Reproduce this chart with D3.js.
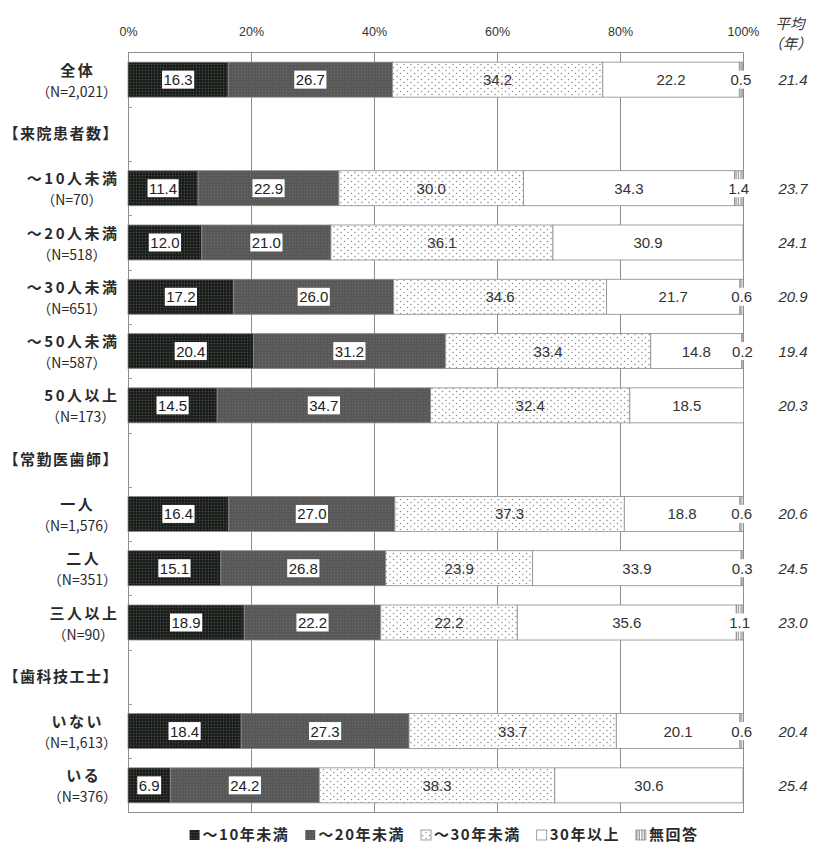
<!DOCTYPE html>
<html lang="ja">
<head>
<meta charset="utf-8">
<script src="https://cdn.jsdelivr.net/npm/d3@7"></script>
<style>
  html, body { margin: 0; padding: 0; background: #fff; }
  svg { display: block; }
</style>
</head>
<body>
<svg id="chart" width="813" height="846"></svg>
<script>
// 開業年数の分布（属性別）
const categories = ["全体", "～10人未満", "～20人未満", "～30人未満", "～50人未満", "50人以上",
                    "一人", "二人", "三人以上", "いない", "いる"];
const sampleLabels = ["（N=2,021）", "（N=70）", "（N=518）", "（N=651）", "（N=587）", "（N=173）",
                      "（N=1,576）", "（N=351）", "（N=90）", "（N=1,613）", "（N=376）"];
const groupHeadings = ["【来院患者数】", "【常勤医歯師】", "【歯科技工士】"];
const groupFirstCategory = ["～10人未満", "一人", "いない"];

const seriesNames = ["～10年未満", "～20年未満", "～30年未満", "30年以上", "無回答"];
const under10 = [16.3, 11.4, 12.0, 17.2, 20.4, 14.5, 16.4, 15.1, 18.9, 18.4, 6.9];
const under20 = [26.7, 22.9, 21.0, 26.0, 31.2, 34.7, 27.0, 26.8, 22.2, 27.3, 24.2];
const under30 = [34.2, 30.0, 36.1, 34.6, 33.4, 32.4, 37.3, 23.9, 22.2, 33.7, 38.3];
const over30  = [22.2, 34.3, 30.9, 21.7, 14.8, 18.5, 18.8, 33.9, 35.6, 20.1, 30.6];
const noAnswer = [0.5, 1.4, 0, 0.6, 0.2, 0, 0.6, 0.3, 1.1, 0.6, 0];
const meanYears = ["21.4", "23.7", "24.1", "20.9", "19.4", "20.3", "20.6", "24.5", "23.0", "20.4", "25.4"];
const tickValues = [0, 20, 40, 60, 80, 100];
const meanHeader = ["平均", "（年）"];

const svg = d3.select("#chart");
const CJK = "'Noto Sans CJK JP', 'Noto Sans', sans-serif";
const NUM = "'Liberation Sans', Arial, sans-serif";

// ---- patterns for each series ----
const defs = svg.append("defs");
function dotPattern(id, w, h, bg, dots, dotFill, r) {
  const p = defs.append("pattern").attr("id", id).attr("patternUnits", "userSpaceOnUse")
    .attr("width", w).attr("height", h);
  p.append("rect").attr("width", w).attr("height", h).attr("fill", bg);
  dots.forEach(([cx, cy]) => p.append("circle").attr("cx", cx).attr("cy", cy).attr("r", r).attr("fill", dotFill));
}
dotPattern("p0", 3, 3, "#1b1e1b", [[1.5, 1.5]], "#474d47", 0.75);
dotPattern("p1", 3, 3, "#575757", [[1.5, 1.5]], "#676767", 0.8);
dotPattern("p2", 7, 6, "#ffffff", [[1.5, 1.5], [5, 4.5]], "#8a8a8a", 0.75);
dotPattern("p3", 4, 4, "#ffffff", [], "#fff", 0);
{
  const p = defs.append("pattern").attr("id", "p4").attr("patternUnits", "userSpaceOnUse")
    .attr("width", 2.5).attr("height", 4);
  p.append("rect").attr("width", 2.5).attr("height", 4).attr("fill", "#fff");
  p.append("rect").attr("x", 0.5).attr("width", 0.9).attr("height", 4).attr("fill", "#6a6a6a");
}
const fills = ["url(#p0)", "url(#p1)", "url(#p2)", "url(#p3)", "url(#p4)"];

// ---- rows: group headings sit in their own band ----
const rows = [];
categories.forEach((c, i) => {
  const g = groupFirstCategory.indexOf(c);
  if (g >= 0) rows.push({ key: groupHeadings[g], heading: true });
  rows.push({ key: c, heading: false, i });
});

const x = d3.scaleLinear().domain([0, 100]).range([128, 743]);
const y = d3.scaleBand().domain(rows.map(r => r.key)).range([52.5, 812.5])
  .paddingInner(0.355).paddingOuter(0.1775);

const plotTop = y.range()[0], plotBottom = y.range()[1];

// ---- frame and grid ----
const grid = svg.append("g");
grid.selectAll("line.v").data(tickValues.slice(1)).join("line")
  .attr("x1", d => x(d) + 0.5).attr("x2", d => x(d) + 0.5)
  .attr("y1", plotTop).attr("y2", plotBottom)
  .attr("stroke", "#8e8e8e").attr("stroke-width", 1);
grid.append("line").attr("x1", x(0)).attr("x2", x(100) + 0.5).attr("y1", plotTop).attr("y2", plotTop)
  .attr("stroke", "#8e8e8e");
grid.append("line").attr("x1", x(0)).attr("x2", x(100) + 0.5).attr("y1", plotBottom).attr("y2", plotBottom)
  .attr("stroke", "#8e8e8e");
grid.append("line").attr("x1", x(0) + 0.5).attr("x2", x(0) + 0.5).attr("y1", plotTop).attr("y2", plotBottom)
  .attr("stroke", "#8e8e8e");
// small ticks between rows on the left axis
const boundaries = rows.slice(1).map(r => y(r.key) - y.step() * y.paddingInner() / 2);
grid.selectAll("line.t").data(boundaries).join("line")
  .attr("x1", x(0)).attr("x2", x(0) + 4).attr("y1", d => Math.round(d) + 0.5).attr("y2", d => Math.round(d) + 0.5)
  .attr("stroke", "#9a9a9a");

// ---- top axis ----
const axis = svg.append("g").attr("transform", `translate(0,${plotTop})`)
  .call(d3.axisTop(x).tickValues(tickValues).tickFormat(d => d + "%").tickSize(0).tickPadding(17));
axis.select(".domain").remove();
axis.selectAll("text").attr("font-family", NUM).attr("font-size", 12.5).attr("fill", "#333");

// mean column header
[meanHeader[0], meanHeader[1]].forEach((h, j) => {
  svg.append("text").attr("x", 790).attr("y", 29 + j * 20).attr("text-anchor", "middle")
    .attr("font-family", CJK).attr("font-size", 14.5).attr("font-style", "italic").attr("fill", "#333")
    .text(h);
});

// ---- bars ----
const series = [under10, under20, under30, over30, noAnswer];
const dataRows = rows.filter(r => !r.heading);
const barG = svg.append("g");
dataRows.forEach(r => {
  const i = r.i;
  const yb = y(r.key), h = y.bandwidth();
  let acc = 0;
  const segs = series.map((s, k) => {
    const seg = { k, v: s[i], x0: acc, x1: acc + s[i] };
    acc += s[i];
    return seg;
  }).filter(s => s.v > 0);

  barG.selectAll(null).data(segs).enter().append("rect")
    .attr("x", d => x(d.x0)).attr("width", d => x(d.x1) - x(d.x0))
    .attr("y", yb).attr("height", h)
    .attr("fill", d => fills[d.k]).attr("stroke", "#8a8a8a").attr("stroke-width", 0.8);

  segs.forEach(d => {
    const cx = (x(d.x0) + x(d.x1)) / 2, cy = yb + h / 2;
    const boxed = d.k === 0 || d.k === 1 || d.k === 4;
    const t = barG.append("text").attr("x", cx).attr("y", cy + 5.5).attr("text-anchor", "middle")
      .attr("font-family", NUM).attr("font-size", 15).attr("fill", "#333")
      .text(d.v.toFixed(1));
    if (boxed) {
      const bb = t.node().getBBox();
      barG.insert("rect", () => t.node())
        .attr("x", bb.x - 1.5).attr("y", cy - 9).attr("width", bb.width + 3).attr("height", 18)
        .attr("fill", "#fff");
      if (d.k !== 4) t.attr("fill", "#222");
    }
  });

  // mean years
  svg.append("text").attr("x", 793).attr("y", yb + h / 2 + 5.5).attr("text-anchor", "middle")
    .attr("font-family", NUM).attr("font-size", 15).attr("font-style", "italic").attr("fill", "#333")
    .text(meanYears[i]);

  // category label: name + sample size, centred on the wider line, ending at x=117
  const g = svg.append("g");
  const t1 = g.append("text").attr("y", yb + h / 2 - 4)
    .attr("font-family", CJK).attr("font-size", 15).attr("font-weight", "bold")
    .attr("letter-spacing", 2.5).attr("fill", "#2a2a2a").attr("text-anchor", "middle").text(categories[i]);
  const t2 = g.append("text").attr("y", yb + h / 2 + 17)
    .attr("font-family", CJK).attr("font-size", 14).attr("fill", "#2a2a2a")
    .attr("text-anchor", "middle").text(sampleLabels[i]);
  const w1 = t1.node().getComputedTextLength() - 2.5;
  const w = Math.max(w1, t2.node().getComputedTextLength());
  t1.attr("x", 117 - w / 2 + 1.25); t2.attr("x", 117 - w / 2);
});

// group headings
rows.filter(r => r.heading).forEach(r => {
  svg.append("text").attr("x", 119).attr("y", y(r.key) + y.bandwidth() / 2 + 5)
    .attr("text-anchor", "end").attr("font-family", CJK).attr("font-size", 15)
    .attr("font-weight", "bold").attr("letter-spacing", 1.5).attr("fill", "#2a2a2a").text(r.key);
});

// ---- legend ----
const legend = svg.append("g");
let lx = 0;
seriesNames.forEach((name, k) => {
  const it = legend.append("g").attr("transform", `translate(${lx},0)`);
  it.append("rect").attr("x", 0).attr("y", -10).attr("width", 10).attr("height", 10)
    .attr("fill", fills[k]).attr("stroke", k < 2 ? "none" : "#888").attr("stroke-width", 0.8);
  const t = it.append("text").attr("x", 13).attr("y", 0)
    .attr("font-family", CJK).attr("font-size", 15).attr("font-weight", "bold").attr("fill", "#2a2a2a")
    .attr("letter-spacing", 1.5).text(name);
  lx += 13 + t.node().getComputedTextLength() + 16;
});
const legendWidth = lx - 16;
legend.attr("transform", `translate(${444 - legendWidth / 2},${840})`);
</script>
</body>
</html>
